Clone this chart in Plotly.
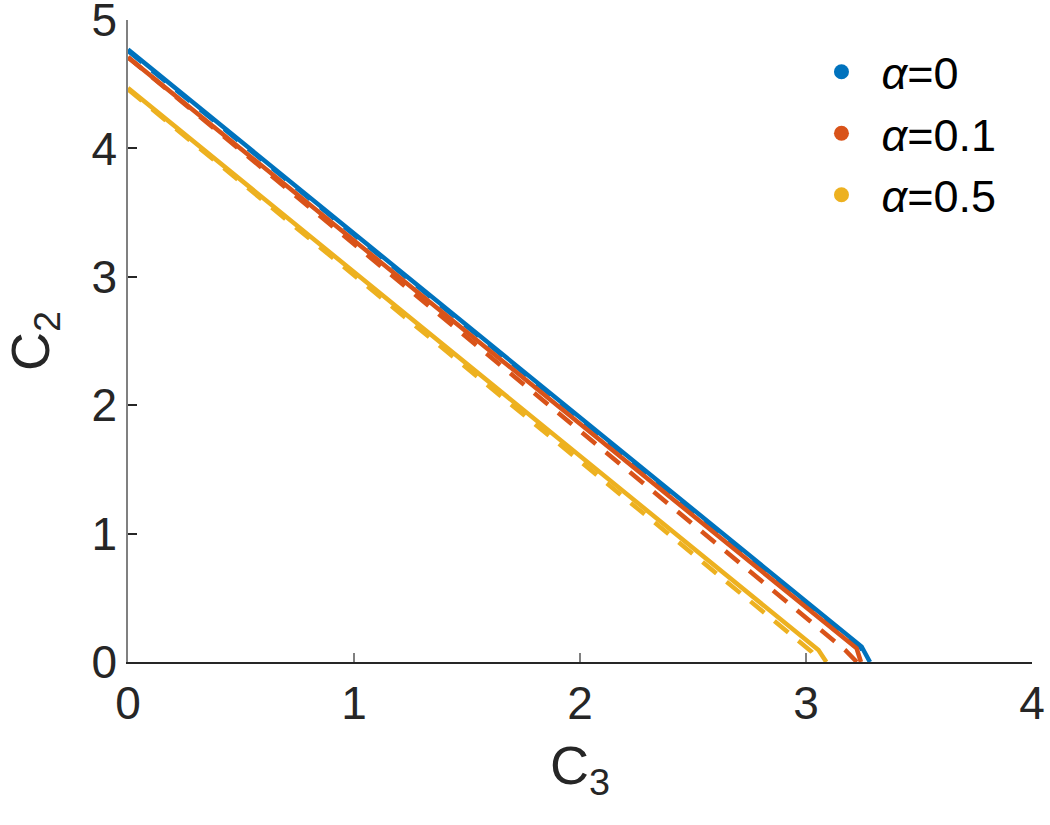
import plotly.graph_objects as go

# Data
blue_solid_c3 = [0, 3.246, 3.283]
blue_solid_c2 = [4.77, 0.12, 0]
blue_dash_c3 = [0, 3.24, 3.28]
blue_dash_c2 = [4.76, 0.12, 0]

red_solid_c3 = [0, 3.224, 3.243]
red_solid_c2 = [4.71, 0.107, 0]
red_dash_c3 = [0, 3.175, 3.225]
red_dash_c2 = [4.71, 0.09, 0]

yel_solid_c3 = [0, 3.055, 3.09]
yel_solid_c2 = [4.47, 0.093, 0]
yel_dash_c3 = [0, 3.025, 3.06]
yel_dash_c2 = [4.46, 0.08, 0]

labels = ["<i>α</i>=0", "<i>α</i>=0.1", "<i>α</i>=0.5"]
colors = ["#0072BD", "#D95319", "#EDB120"]

x_ticks = [0, 1, 2, 3, 4]
y_ticks = [0, 1, 2, 3, 4, 5]

FONT = "Liberation Sans, Arial, Helvetica, sans-serif"
LW = 4.5
DASH = "18px,13px"

fig = go.Figure()
series = [
    (blue_dash_c3, blue_dash_c2, colors[0], DASH),
    (blue_solid_c3, blue_solid_c2, colors[0], "solid"),
    (red_dash_c3, red_dash_c2, colors[1], DASH),
    (red_solid_c3, red_solid_c2, colors[1], "solid"),
    (yel_dash_c3, yel_dash_c2, colors[2], DASH),
    (yel_solid_c3, yel_solid_c2, colors[2], "solid"),
]
for xs, ys, c, d in series:
    fig.add_trace(go.Scatter(x=xs, y=ys, mode="lines",
                             line=dict(color=c, width=LW, dash=d),
                             showlegend=False, hoverinfo="skip"))

for lab, c in zip(labels, colors):
    fig.add_trace(go.Scatter(x=[None], y=[None], mode="markers",
                             marker=dict(color=c, size=15),
                             name=lab, showlegend=True))

fig.update_layout(
    template="none",
    width=1050, height=825,
    margin=dict(l=128, r=18, t=20, b=163),
    paper_bgcolor="white", plot_bgcolor="white",
    font=dict(family=FONT, size=46, color="#262626"),
    legend=dict(x=0.745, y=0.975, xanchor="left", yanchor="top",
                bgcolor="rgba(0,0,0,0)", borderwidth=0,
                font=dict(size=45, color="#000000"),
                itemwidth=70, tracegroupgap=0),
    xaxis=dict(range=[0, 4], tickvals=x_ticks, ticktext=[str(v) for v in x_ticks],
               showgrid=False, zeroline=False, showline=True, automargin=False,
               ticklabeloverflow="allow",
               linecolor="#262626", linewidth=1.5,
               ticks="inside", ticklen=9, tickcolor="#808080", tickwidth=1.5,
               title=dict(text="C<sub>3</sub>", font=dict(size=54), standoff=18)),
    yaxis=dict(range=[0, 5], tickvals=y_ticks, ticktext=[str(v) for v in y_ticks],
               showgrid=False, zeroline=False, showline=True, automargin="left",
               ticklabeloverflow="allow",
               linecolor="#808080", linewidth=1.5,
               ticks="inside", ticklen=9, tickcolor="#262626", tickwidth=1.5,
               title=dict(text="C<sub>2</sub>", font=dict(size=54), standoff=36)),
)

fig.write_html("out.html")
